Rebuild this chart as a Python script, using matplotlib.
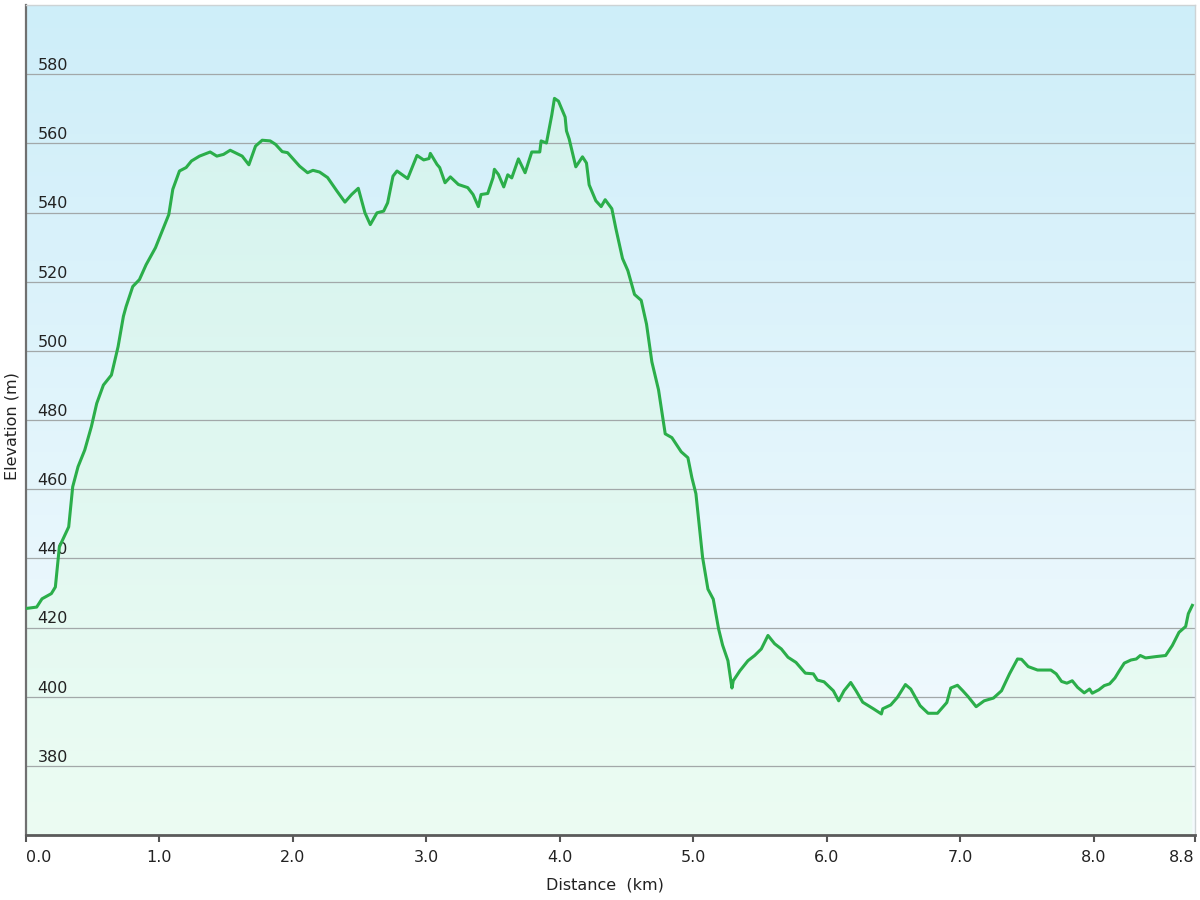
import numpy as np
import matplotlib
matplotlib.use('Agg')
import matplotlib.pyplot as plt
from matplotlib.patches import Polygon
from matplotlib.transforms import blended_transform_factory

# elevation profile (km, m)
dist = [0.00, 0.08, 0.12, 0.19, 0.22, 0.25, 0.32, 0.35, 0.39, 0.44, 0.49, 0.53, 0.58, 0.64, 0.69,
        0.73, 0.75, 0.80, 0.85, 0.90, 0.97, 1.02, 1.07, 1.10, 1.15, 1.20, 1.24, 1.30, 1.38, 1.43,
        1.48, 1.53, 1.62, 1.67, 1.72, 1.77, 1.83, 1.87, 1.92, 1.96, 2.05, 2.11, 2.15, 2.20, 2.26,
        2.33, 2.39, 2.44, 2.49, 2.54, 2.58, 2.63, 2.68, 2.71, 2.75, 2.78, 2.86, 2.93, 2.98, 3.02,
        3.03, 3.08, 3.10, 3.14, 3.18, 3.24, 3.31, 3.35, 3.39, 3.41, 3.46, 3.50, 3.51, 3.54, 3.58,
        3.61, 3.64, 3.69, 3.74, 3.79, 3.85, 3.86, 3.90, 3.94, 3.96, 3.99, 4.04, 4.05, 4.07, 4.12,
        4.17, 4.20, 4.22, 4.27, 4.31, 4.34, 4.39, 4.42, 4.47, 4.51, 4.56, 4.61, 4.65, 4.69, 4.74,
        4.79, 4.84, 4.91, 4.96, 4.99, 5.02, 5.07, 5.11, 5.15, 5.19, 5.22, 5.26, 5.29, 5.30, 5.35,
        5.41, 5.46, 5.51, 5.56, 5.61, 5.66, 5.71, 5.77, 5.84, 5.90, 5.93, 5.98, 6.05, 6.09, 6.13,
        6.18, 6.22, 6.27, 6.35, 6.41, 6.42, 6.48, 6.53, 6.59, 6.63, 6.70, 6.76, 6.83, 6.90, 6.93,
        6.98, 7.02, 7.06, 7.12, 7.18, 7.25, 7.31, 7.37, 7.43, 7.46, 7.51, 7.58, 7.68, 7.72, 7.76,
        7.80, 7.84, 7.88, 7.93, 7.97, 7.99, 8.04, 8.08, 8.12, 8.16, 8.19, 8.23, 8.28, 8.32, 8.35,
        8.39, 8.47, 8.54, 8.59, 8.64, 8.69, 8.71, 8.74]
elev = [425.5, 425.9, 428.3, 429.8, 431.7, 443.3, 449.1, 460.7, 466.5, 471.3, 478.1, 484.8, 490.1, 493.0, 501.2,
        510.0, 512.8, 518.6, 520.6, 524.9, 529.8, 534.6, 539.4, 546.7, 552.0, 553.0, 554.9, 556.3, 557.5, 556.3,
        556.8, 558.0, 556.3, 553.8, 559.2, 560.9, 560.7, 559.7, 557.6, 557.3, 553.4, 551.5, 552.2, 551.7, 550.1,
        546.2, 543.0, 545.2, 547.0, 539.9, 536.5, 539.9, 540.4, 542.8, 550.5, 552.0, 549.8, 556.5, 555.2, 555.6,
        557.1, 553.9, 553.0, 548.6, 550.3, 548.1, 547.2, 545.2, 541.7, 545.2, 545.5, 550.1, 552.5, 551.0, 547.4,
        550.9, 550.0, 555.5, 551.5, 557.5, 557.5, 560.7, 560.1, 568.2, 573.0, 572.2, 567.6, 563.6, 561.3, 553.2,
        556.1, 554.3, 548.0, 543.4, 541.7, 543.7, 541.1, 535.4, 526.7, 523.2, 516.3, 514.6, 507.7, 496.8, 488.7,
        476.0, 474.9, 470.8, 469.1, 463.3, 458.7, 440.3, 431.1, 428.2, 419.6, 414.9, 410.4, 402.5, 404.6, 407.5,
        410.4, 411.9, 413.8, 417.7, 415.3, 413.8, 411.4, 409.9, 406.8, 406.6, 404.8, 404.3, 401.7, 398.8, 401.7,
        404.1, 401.7, 398.4, 396.5, 395.0, 396.5, 397.6, 399.8, 403.5, 402.2, 397.4, 395.2, 395.2, 398.3, 402.5,
        403.3, 401.7, 400.0, 397.1, 398.8, 399.6, 401.7, 406.6, 410.9, 410.8, 408.7, 407.7, 407.7, 406.6, 404.4,
        403.9, 404.6, 402.7, 401.1, 402.2, 401.0, 402.0, 403.2, 403.7, 405.4, 407.3, 409.7, 410.6, 410.9, 411.9,
        411.2, 411.6, 411.9, 414.8, 418.6, 420.3, 424.0, 426.4]

x_max = 8.76
y_min, y_max = 360, 600
x_ticks = [0, 1, 2, 3, 4, 5, 6, 7, 8, x_max]
x_labels = ['0.0', '1.0', '2.0', '3.0', '4.0', '5.0', '6.0', '7.0', '8.0', '8.8']
y_ticks = [380, 400, 420, 440, 460, 480, 500, 520, 540, 560, 580]

plt.rcParams['font.family'] = ['DejaVu Sans']
fig = plt.figure(figsize=(12, 9), dpi=100)
ax = fig.add_axes([26/1200, 65/900, 1169/1200, 830/900])


def vgrad(top, bottom, n=256):
    t = np.linspace(0, 1, n)[:, None]
    top = np.array(top) / 255.0
    bottom = np.array(bottom) / 255.0
    return (top * (1 - t) + bottom * t)[:, None, :]


# sky background and green area under the profile
ax.imshow(vgrad((206, 238, 249), (245, 251, 254)), extent=[0, x_max, y_min, y_max],
          aspect='auto', zorder=0, interpolation='bilinear')
fill_im = ax.imshow(vgrad((210, 242, 238), (236, 252, 243)), extent=[0, x_max, y_min, y_max],
                    aspect='auto', zorder=1, interpolation='bilinear')
verts = [(dist[0], y_min)] + list(zip(dist, elev)) + [(dist[-1], y_min)]
area = Polygon(verts, closed=True, facecolor='none', edgecolor='none', transform=ax.transData)
ax.add_patch(area)
fill_im.set_clip_path(area)

for v in y_ticks:
    ax.axhline(v, color='#a2a8a9', lw=0.9, zorder=2)
trans = blended_transform_factory(ax.transAxes, ax.transData)
for v in y_ticks:
    ax.text(0.0098, v + 1.2, str(v), transform=trans, ha='left', va='baseline',
            fontsize=11.5, color='#222222', zorder=3)

ax.plot(dist, elev, color='#2bae4a', lw=2.2, zorder=4, solid_joinstyle='round')

ax.set_xlim(0, x_max)
ax.set_ylim(y_min, y_max)
ax.set_yticks([])
ax.set_xticks(x_ticks, labels=x_labels)
ax.tick_params(axis='x', direction='out', length=5, width=1.5, color='#555555',
               labelsize=11.5, labelcolor='#222222', pad=6)
lbls = ax.get_xticklabels()
lbls[0].set_ha('left')
lbls[-1].set_ha('right')

ax.spines['left'].set_color('#707070')
ax.spines['left'].set_linewidth(1.6)
ax.spines['bottom'].set_color('#5a5a5a')
ax.spines['bottom'].set_linewidth(2.0)
for s in ['top', 'right']:
    ax.spines[s].set_color('#cdd3d5')
    ax.spines[s].set_linewidth(1.0)

fig.text(605/1200, 1 - 885/900, 'Distance  (km)', ha='center', va='center',
         fontsize=11.5, color='#222222')
fig.text(12/1200, 1 - 426/900, 'Elevation (m)', ha='center', va='center', rotation=90,
         fontsize=11.5, color='#222222')

fig.savefig('out.png', dpi=100)
